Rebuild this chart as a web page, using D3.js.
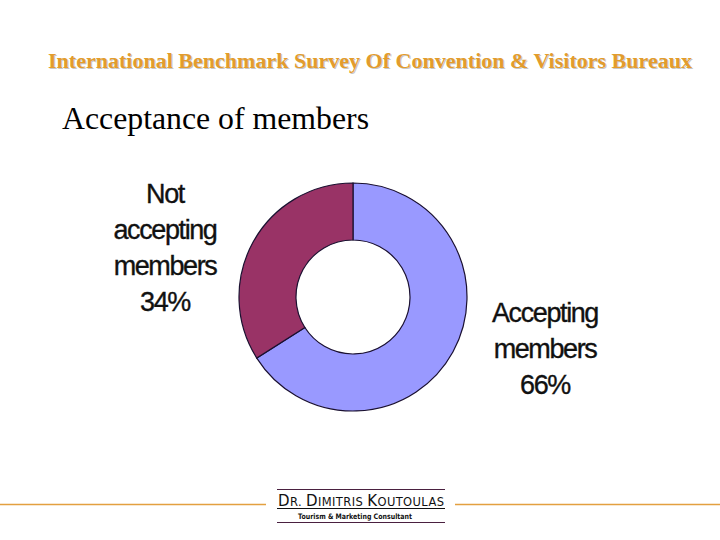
<!DOCTYPE html>
<html><head><meta charset="utf-8">
<script src="https://cdn.jsdelivr.net/npm/d3@7"></script>
<style>body{margin:0;background:#fff}svg{display:block}</style>
</head><body>
<svg id="c" width="720" height="540"></svg>
<script>
const categories = ["Accepting members", "Not accepting members"];
const values = [66, 34];
const colors = ["#9999FF", "#993366"];
const labelLines = [["Accepting", "members", "66%"], ["Not", "accepting", "members", "34%"]];

const svg = d3.select("#c");
const W = 720;

// Title with shadow
const tTitle = "International Benchmark Survey Of Convention & Visitors Bureaux";
[[1, "#c8c8c8"], [0, "#E39C2C"]].forEach(([o, col]) => {
  svg.append("text").attr("x", 48 + o).attr("y", 68 + o)
    .attr("textLength", 644).attr("lengthAdjust", "spacingAndGlyphs")
    .attr("font-family", "Liberation Serif, Times New Roman, serif").attr("font-weight", "bold")
    .attr("font-size", 21.5).attr("fill", col).text(tTitle);
});

svg.append("text").attr("x", 62).attr("y", 129)
  .attr("textLength", 307).attr("lengthAdjust", "spacingAndGlyphs")
  .attr("font-family", "Liberation Serif, Times New Roman, serif")
  .attr("font-size", 31).attr("fill", "#000").text("Acceptance of members");

// Donut
const cx = 353, cy = 297, R = 114, r = 57;
const pie = d3.pie().sort(null).value(d => d)(values);
const arc = d3.arc().innerRadius(r).outerRadius(R);
const g = svg.append("g").attr("transform", `translate(${cx},${cy})`);
g.selectAll("path").data(pie).join("path")
  .attr("d", arc).attr("fill", (d, i) => colors[i])
  .attr("stroke", "#1a1030").attr("stroke-width", 1.2);

// Labels
const labelPos = [{x: 545, y: 322}, {x: 165, y: 203}];
labelLines.forEach((lines, i) => {
  const t = svg.append("text").attr("text-anchor", "middle")
    .attr("font-family", "Liberation Sans, Arial, sans-serif")
    .attr("font-size", 27).attr("letter-spacing", -1.4).attr("fill", "#111")
    .attr("stroke", "#111").attr("stroke-width", 0.35);
  lines.forEach((ln, j) => {
    t.append("tspan").attr("x", labelPos[i].x).attr("y", labelPos[i].y + j * 36).text(ln);
  });
});

// Footer
svg.append("line").attr("x1", 0).attr("x2", 266).attr("y1", 504.5).attr("y2", 504.5)
  .attr("stroke", "#E3A040").attr("stroke-width", 1.3);
svg.append("line").attr("x1", 455).attr("x2", W).attr("y1", 504.5).attr("y2", 504.5)
  .attr("stroke", "#E3A040").attr("stroke-width", 1.3);
svg.append("line").attr("x1", 277).attr("x2", 445).attr("y1", 489.5).attr("y2", 489.5)
  .attr("stroke", "#4a2040").attr("stroke-width", 1.2);
svg.append("line").attr("x1", 277).attr("x2", 445).attr("y1", 508.5).attr("y2", 508.5)
  .attr("stroke", "#111").attr("stroke-width", 1.2);
svg.append("line").attr("x1", 277).attr("x2", 445).attr("y1", 522.5).attr("y2", 522.5)
  .attr("stroke", "#4a2040").attr("stroke-width", 1.2);
const logo = svg.append("text").attr("x", 278).attr("y", 506)
  .attr("textLength", 166).attr("lengthAdjust", "spacing")
  .attr("font-family", "DejaVu Sans, sans-serif").attr("font-size", 15).attr("fill", "#111");
logo.append("tspan").text("D");
logo.append("tspan").attr("font-size", 11.5).text("R. ");
logo.append("tspan").text("D");
logo.append("tspan").attr("font-size", 11.5).text("IMITRIS ");
logo.append("tspan").text("K");
logo.append("tspan").attr("font-size", 11.5).text("OUTOULAS");
svg.append("text").attr("x", 298).attr("y", 519)
  .attr("textLength", 114).attr("lengthAdjust", "spacingAndGlyphs")
  .attr("font-family", "DejaVu Sans, sans-serif").attr("font-size", 7.5).attr("font-weight", "bold")
  .attr("fill", "#111").text("Tourism & Marketing Consultant");
</script>
</body></html>
